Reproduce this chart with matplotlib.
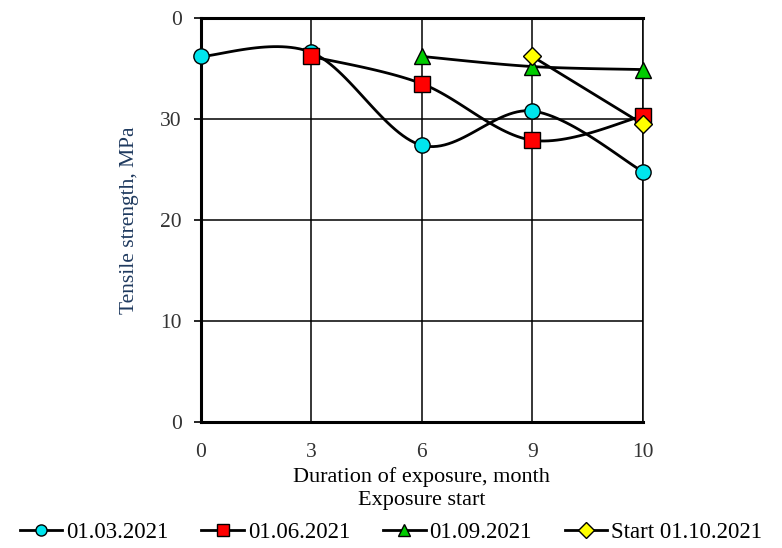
import numpy as np
import matplotlib
matplotlib.use("Agg")
import matplotlib.pyplot as plt
from matplotlib.lines import Line2D

plt.rcParams['font.family'] = ['Liberation Serif', 'DejaVu Serif']

months = ["0", "3", "6", "9", "10"]
y_ticks = [0, 10, 20, 30, 40]
y_tick_labels = ["0", "10", "20", "30", "0"]

# index positions of each series into months
s1_idx = [0, 1, 2, 3, 4]
s1_val = [36.2, 36.6, 27.4, 30.8, 24.8]
s2_idx = [1, 2, 3, 4]
s2_val = [36.2, 33.5, 27.9, 30.3]
s3_idx = [2, 3, 4]
s3_val = [36.2, 35.2, 34.9]
s4_idx = [3, 4]
s4_val = [36.2, 29.5]

labels = ["01.03.2021", "01.06.2021", "01.09.2021", "Start 01.10.2021"]
colors = ["#00e5ee", "#ff0000", "#00cc00", "#ffff00"]
markers = ["o", "s", "^", "D"]
msizes = [11, 11, 11, 9.5]


def smooth(x, y, n=30):
    x = np.asarray(x, float)
    y = np.asarray(y, float)
    if len(x) < 3:
        return x, y
    px = np.concatenate([[x[0]], x, [x[-1]]])
    py = np.concatenate([[y[0]], y, [y[-1]]])
    X, Y = [], []
    for i in range(1, len(px) - 2):
        p0, p1, p2, p3 = [np.array([px[j], py[j]]) for j in (i - 1, i, i + 1, i + 2)]
        c1 = p1 + (p2 - p0) / 6.0
        c2 = p2 - (p3 - p1) / 6.0
        t = np.linspace(0, 1, n)[:, None]
        b = ((1 - t) ** 3) * p1 + 3 * ((1 - t) ** 2) * t * c1 + 3 * (1 - t) * t ** 2 * c2 + t ** 3 * p2
        X.extend(b[:, 0]); Y.extend(b[:, 1])
    return np.array(X), np.array(Y)


fig = plt.figure(figsize=(7.82, 5.48), dpi=100)
ax = fig.add_axes([0.257, 0.230, 0.565, 0.737])

series = [(s1_idx, s1_val), (s2_idx, s2_val), (s3_idx, s3_val), (s4_idx, s4_val)]
for (xi, yv), c, m, ms in zip(series, colors, markers, msizes):
    sx, sy = smooth(xi, yv)
    ax.plot(sx, sy, color="black", lw=2.0, zorder=3, solid_capstyle="round")
    ax.plot(xi, yv, ls="none", marker=m, markersize=ms, markerfacecolor=c,
            markeredgecolor="black", markeredgewidth=1.0, zorder=4, clip_on=False)

ax.set_xlim(0, 4)
ax.set_ylim(0, 40)
ax.set_xticks(range(len(months)))
ax.set_xticklabels(months)
ax.set_yticks(y_ticks)
ax.set_yticklabels(y_tick_labels)
ax.grid(True, color="black", lw=1.1)
ax.set_axisbelow(True)
for side in ["left", "bottom", "top"]:
    ax.spines[side].set_linewidth(2.2)
ax.spines["right"].set_linewidth(1.1)
ax.tick_params(axis="both", labelsize=15.5, colors="black", length=5, width=1.2)
ax.tick_params(axis="y", pad=9)
ax.tick_params(axis="x", length=0, pad=15)
for t in ax.get_yticklabels() + ax.get_xticklabels():
    t.set_color("#333333")

ax.set_ylabel("Tensile strength, MPa", fontsize=15.5, color="#1f3a5f")
ax.yaxis.set_label_coords(-0.14, 0.5)
ax.set_xlabel("Duration of exposure, month\nExposure start", fontsize=16,
              color="black", linespacing=1.3)
ax.xaxis.set_label_coords(0.5, -0.112)

handles = [Line2D([0], [0], color="black", lw=2.0, marker=m, markersize=8,
                  markerfacecolor=c, markeredgecolor="black", markeredgewidth=1.0)
           for c, m in zip(colors, markers)]
fig.legend(handles, labels, loc="center", bbox_to_anchor=(0.5, 0.028), ncol=4,
           frameon=False, fontsize=16.5, handlelength=1.85, handletextpad=0.17,
           columnspacing=1.45, borderpad=0, borderaxespad=0)

fig.savefig("out.png", dpi=100)
